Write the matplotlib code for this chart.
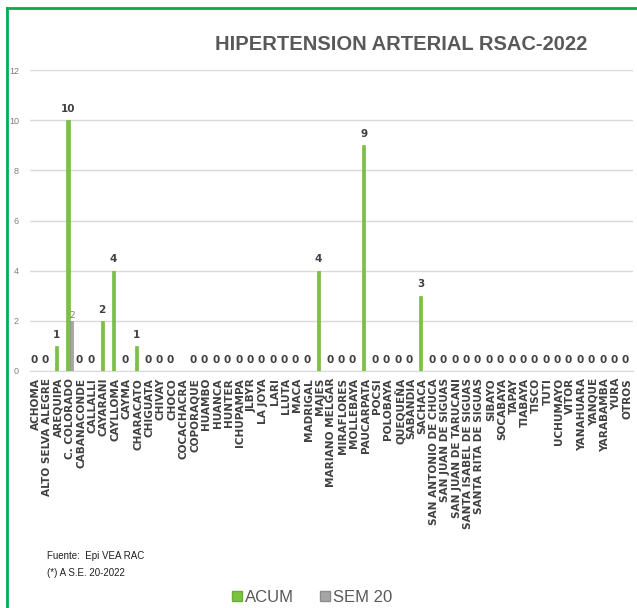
import numpy as np
import matplotlib
matplotlib.use("Agg")
import matplotlib.pyplot as plt
from matplotlib.lines import Line2D

districts = [
    "ACHOMA", "ALTO SELVA ALEGRE", "AREQUIPA", "C. COLORADO", "CABANACONDE",
    "CALLALLI", "CAYARANI", "CAYLLOMA", "CAYMA", "CHARACATO", "CHIGUATA",
    "CHIVAY", "CHOCO", "COCACHACRA", "COPORAQUE", "HUAMBO", "HUANCA", "HUNTER",
    "ICHUPAMPA", "JLBYR", "LA JOYA", "LARI", "LLUTA", "MACA", "MADRIGAL",
    "MAJES", "MARIANO MELGAR", "MIRAFLORES", "MOLLEBAYA", "PAUCARPATA",
    "POCSI", "POLOBAYA", "QUEQUEÑA", "SABANDIA", "SACHACA",
    "SAN ANTONIO DE CHUCA", "SAN JUAN DE SIGUAS", "SAN JUAN DE TARUCANI",
    "SANTA ISABEL DE SIGUAS", "SANTA RITA DE SIGUAS", "SIBAYO", "SOCABAYA",
    "TAPAY", "TIABAYA", "TISCO", "TUTI", "UCHUMAYO", "VITOR", "YANAHUARA",
    "YANQUE", "YARABAMBA", "YURA", "OTROS",
]

nan = np.nan
acum = [
    0, 0, 1, 10, 0, 0, 2, 4, 0, 1, 0, 0, 0, nan, 0, 0, 0, 0, 0, 0, 0, 0, 0,
    0, 0, 4, 0, 0, 0, 9, 0, 0, 0, 0, 3, 0, 0, 0, 0, 0, 0, 0, 0, 0, 0, 0, 0,
    0, 0, 0, 0, 0, 0,
]
sem20 = [nan] * len(districts)
sem20[districts.index("C. COLORADO")] = 2

y_ticks = [0, 2, 4, 6, 8, 10, 12]

GREEN = "#7CC242"
GRAY = "#A6A6A6"
TEXT = "#404040"
SANS = ["Liberation Sans", "DejaVu Sans"]

W, H = 637, 608
fig = plt.figure(figsize=(W / 100, H / 100), dpi=100)
fig.patch.set_facecolor("white")

ax = fig.add_axes([30 / W, 1 - 371 / H, 603 / W, 301 / H])
x = np.arange(len(districts))
acum_arr = np.array(acum, dtype=float)
sem_arr = np.array(sem20, dtype=float)

ax.bar(x - 0.16, np.nan_to_num(acum_arr), width=0.27, color=GREEN,
       edgecolor="#6AB02E", linewidth=0.4, zorder=3)
ax.bar(x + 0.18, np.nan_to_num(sem_arr), width=0.27, color=GRAY,
       edgecolor="#8C8C8C", linewidth=0.4, zorder=3)

for xi, v in zip(x, acum_arr):
    if np.isnan(v):
        continue
    ax.text(xi - 0.16, v + 0.25, f"{int(v)}", ha="center", va="bottom",
            fontsize=7.5, fontweight="bold", color=TEXT, family="DejaVu Sans")
for xi, v in zip(x, sem_arr):
    if np.isnan(v):
        continue
    ax.text(xi + 0.25, v + 0.05, f"{int(v)}", ha="center", va="bottom",
            fontsize=6.5, color="#808080", family="DejaVu Sans")

ax.set_xlim(-0.5, len(districts) - 0.5)
ax.set_ylim(0, 12)
ax.set_yticks(y_ticks)
ax.set_yticklabels([str(t) for t in y_ticks], fontsize=6.5, color="#7F7F7F",
                   family=SANS)
ax.set_xticks(x)
ax.set_xticklabels(districts, rotation=90, fontsize=7.6, fontweight="bold",
                   color=TEXT, family="DejaVu Sans")
ax.tick_params(axis="both", length=0)
ax.tick_params(axis="x", pad=5)
ax.tick_params(axis="y", pad=8)
ax.grid(axis="y", color="#D9D9D9", linewidth=1.0, zorder=0)
for s in ["top", "right", "left"]:
    ax.spines[s].set_visible(False)
ax.spines["bottom"].set_color("#D9D9D9")
ax.set_axisbelow(True)

fig.text(401 / W, 1 - 44 / H, "HIPERTENSION ARTERIAL RSAC-2022",
         ha="center", va="center", fontsize=14.5, fontweight="bold",
         color="#595959", family=SANS)

fig.text(47 / W, 1 - 556 / H, "Fuente:  Epi VEA RAC", ha="left", va="center",
         fontsize=7, color="#202020", family=SANS)
fig.text(47 / W, 1 - 573 / H, "(*) A S.E. 20-2022", ha="left", va="center",
         fontsize=7, color="#202020", family=SANS)

handles = [
    Line2D([], [], marker="s", linestyle="none", markersize=6.5,
           markerfacecolor=GREEN, markeredgecolor="#6AB02E"),
    Line2D([], [], marker="s", linestyle="none", markersize=6.5,
           markerfacecolor=GRAY, markeredgecolor="#8C8C8C"),
]
fig.legend(handles, ["ACUM", "SEM 20"], loc="center",
           bbox_to_anchor=(312 / W, 1 - 597 / H), ncol=2, frameon=False,
           handlelength=0.6, handletextpad=0.15, columnspacing=1.6,
           prop={"family": SANS, "size": 12}, labelcolor="#595959")

# green frame along the top and left edges
fig.add_artist(Line2D([7 / W, 1.0], [1 - 8 / H, 1 - 8 / H],
                      transform=fig.transFigure, color="#00B050", linewidth=2))
fig.add_artist(Line2D([7 / W, 7 / W], [0, 1 - 8 / H],
                      transform=fig.transFigure, color="#00B050", linewidth=2))

fig.savefig("out.png", dpi=100, facecolor="white")
